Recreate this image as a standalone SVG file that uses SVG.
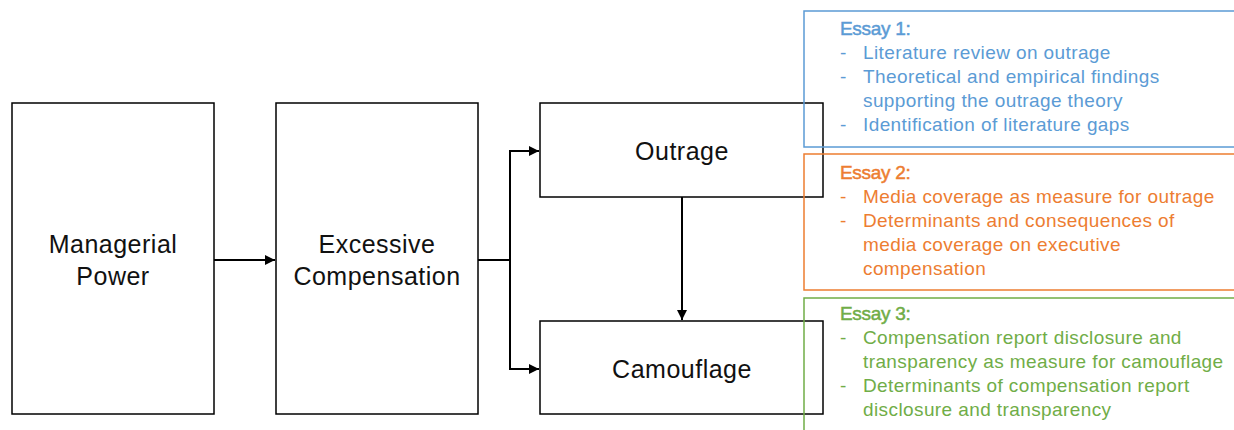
<svg xmlns="http://www.w3.org/2000/svg" width="1234" height="430" viewBox="0 0 1234 430">
<defs>
<marker id="ah" viewBox="0 0 10 10" refX="10" refY="5" markerWidth="5" markerHeight="5" markerUnits="strokeWidth" orient="auto">
<path d="M0,0 L10,5 L0,10 z" fill="#000"/>
</marker>
<style>
.box{fill:#fff;stroke:#000;stroke-width:1.5}
.lbl{font-family:"Liberation Sans",Arial,sans-serif;font-size:25px;letter-spacing:0.5px;fill:#111;text-anchor:middle}
.conn{fill:none;stroke:#000;stroke-width:2}
.ebox{fill:none;stroke-width:1.5}
.et{font-family:"Liberation Sans",Arial,sans-serif;font-size:19px;letter-spacing:0.4px}
.eh{font-family:"Liberation Sans",Arial,sans-serif;font-size:19px;letter-spacing:-0.3px;stroke-width:0.5}
.blue{fill:#5b9bd5}
.orange{fill:#ed7d31}
.green{fill:#70ad47}
.eh.blue{stroke:#5b9bd5}
.eh.orange{stroke:#ed7d31}
.eh.green{stroke:#70ad47}
</style>
</defs>
<rect width="1234" height="430" fill="#fff"/>
<g id="managerial-power">
<rect class="box" x="12" y="103" width="202" height="311"/>
<text class="lbl" x="113" y="253">Managerial</text>
<text class="lbl" x="113" y="285">Power</text>
</g>
<g id="excessive-compensation">
<rect class="box" x="276" y="103" width="202" height="311"/>
<text class="lbl" x="377" y="253">Excessive</text>
<text class="lbl" x="377" y="285">Compensation</text>
</g>
<g id="outrage">
<rect class="box" x="540" y="103" width="283" height="94"/>
<text class="lbl" x="682" y="160">Outrage</text>
</g>
<g id="camouflage">
<rect class="box" x="540" y="321" width="283" height="93"/>
<text class="lbl" x="682" y="378">Camouflage</text>
</g>
<g id="connectors">
<path class="conn" d="M214,260 H275" marker-end="url(#ah)"/>
<path class="conn" d="M478,260 H510 V151 H539" marker-end="url(#ah)"/>
<path class="conn" d="M510,260 V369 H539" marker-end="url(#ah)"/>
<path class="conn" d="M682,197 V320" marker-end="url(#ah)"/>
</g>
<g id="essay1">
<rect class="ebox" x="804" y="11" width="440" height="136" stroke="#5b9bd5"/>
<text class="eh blue" x="840" y="35">Essay 1:</text>
<text class="et blue" x="840" y="59">-</text><text class="et blue" x="863" y="59">Literature review on outrage</text>
<text class="et blue" x="840" y="83">-</text><text class="et blue" x="863" y="83">Theoretical and empirical findings</text>
<text class="et blue" x="863" y="107">supporting the outrage theory</text>
<text class="et blue" x="840" y="131">-</text><text class="et blue" x="863" y="131">Identification of literature gaps</text>
</g>
<g id="essay2">
<rect class="ebox" x="804" y="154" width="440" height="136" stroke="#ed7d31"/>
<text class="eh orange" x="840" y="179">Essay 2:</text>
<text class="et orange" x="840" y="203">-</text><text class="et orange" x="863" y="203">Media coverage as measure for outrage</text>
<text class="et orange" x="840" y="227">-</text><text class="et orange" x="863" y="227">Determinants and consequences of</text>
<text class="et orange" x="863" y="251">media coverage on executive</text>
<text class="et orange" x="863" y="275">compensation</text>
</g>
<g id="essay3">
<rect class="ebox" x="804" y="298" width="440" height="140" stroke="#70ad47"/>
<text class="eh green" x="840" y="320">Essay 3:</text>
<text class="et green" x="840" y="344">-</text><text class="et green" x="863" y="344">Compensation report disclosure and</text>
<text class="et green" x="863" y="368">transparency as measure for camouflage</text>
<text class="et green" x="840" y="392">-</text><text class="et green" x="863" y="392">Determinants of compensation report</text>
<text class="et green" x="863" y="416">disclosure and transparency</text>
</g>
</svg>
